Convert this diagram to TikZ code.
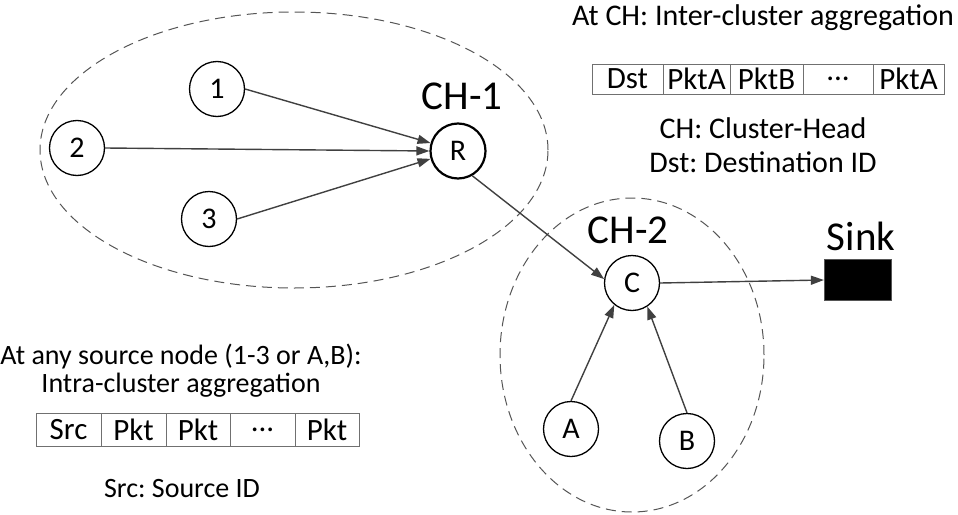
\documentclass[tikz,border=0pt]{standalone}
\usepackage{fontspec}
\setmainfont{Carlito}
\frenchspacing
\usetikzlibrary{arrows.meta}
\definecolor{edgegray}{HTML}{404040}
\definecolor{dashgray}{HTML}{555555}
\definecolor{cellgray}{HTML}{707070}
\begin{document}
\begin{tikzpicture}[x=1pt,y=-1pt,
  sensor/.style={circle,draw=black,line width=1.3pt,minimum size=55pt,inner sep=0pt,
    font=\fontsize{30}{32}\selectfont},
  headnode/.style={sensor,line width=2.2pt},
  link/.style={draw=edgegray,line width=1.4pt,-{Triangle[length=13pt,width=9pt]}},
  cluster/.style={draw=dashgray,line width=1pt,dash pattern=on 10pt off 6pt},
  bigtext/.style={font=\fontsize{41}{46}\selectfont,inner sep=0pt},
  note/.style={font=\fontsize{30}{34}\selectfont,inner sep=0pt},
  leftnote/.style={font=\fontsize{28}{33}\selectfont,inner sep=0pt},
  cell/.style={draw=cellgray,line width=1pt,rectangle,inner sep=0pt,
    font=\fontsize{31}{34}\selectfont},
]
\useasboundingbox (0,0) rectangle (958,514);

% clusters
\draw[cluster] (294,150) ellipse [x radius=254pt, y radius=138pt];
\draw[cluster] (632,355) ellipse [x radius=132pt, y radius=157pt];

% cluster 1
\node[sensor] (n1) at (217,89) {1};
\node[sensor] (n2) at (77,148) {2};
\node[sensor] (n3) at (209,219) {3};
\node[headnode] (R) at (458,151) {R};
\node[bigtext] (ch1) at (462,96) {CH-1};

% cluster 2
\node[sensor] (C) at (632,283) {C};
\node[sensor] (A) at (571,429) {A};
\node[sensor] (B) at (687,441) {B};
\node[bigtext] (ch2) at (628,230) {CH-2};

% sink
\node[rectangle,draw=dashgray,line width=1.2pt,fill=black,minimum width=67pt,minimum height=41pt,inner sep=0pt] (sink) at (858,280) {};
\node[bigtext] (sinklbl) at (861,236) {Sink};

% links
\draw[link] (n1.east) -- (R);
\draw[link] (n2.east) -- (R.west);
\draw[link] (n3.east) -- (R.196);
\draw[link] (R.-60) -- (C.172);
\draw[link] (A.north) -- (C.231);
\draw[link] (B.north) -- (C.303);
\draw[link] (C.east) -- (sink.west);

% inter-cluster packet format
\node[note] (intertitle) at (763,18) {At CH: Inter-cluster aggregation};
\node[cell,minimum width=71pt,minimum height=30pt] (d1) at (627.5,79) {Dst};
\node[cell,minimum width=67pt,minimum height=30pt] (d2) at (696.5,79) {PktA};
\node[cell,minimum width=73pt,minimum height=30pt] (d3) at (766.5,79) {PktB};
\node[cell,minimum width=70pt,minimum height=30pt] (d4) at (838,79) {...};
\node[cell,minimum width=71pt,minimum height=30pt] (d5) at (908.5,79) {PktA};
\node[note] (chdef) at (763,128) {CH: Cluster-Head};
\node[note] (dstdef) at (763,162) {Dst: Destination ID};

% intra-cluster packet format
\node[leftnote] (intratitle) at (181,357) {At any source node (1-3 or A,B):};
\node[leftnote] (intrasub) at (181,385) {Intra-cluster aggregation};
\node[cell,minimum width=65pt,minimum height=33pt] (s1) at (68.5,429.5) {Src};
\node[cell,minimum width=65pt,minimum height=33pt] (s2) at (133.5,429.5) {Pkt};
\node[cell,minimum width=64pt,minimum height=33pt] (s3) at (198,429.5) {Pkt};
\node[cell,minimum width=65pt,minimum height=33pt] (s4) at (262.5,429.5) {...};
\node[cell,minimum width=64pt,minimum height=33pt] (s5) at (327,429.5) {Pkt};
\node[leftnote] (srcdef) at (182,489) {Src: Source ID};
\end{tikzpicture}
\end{document}
